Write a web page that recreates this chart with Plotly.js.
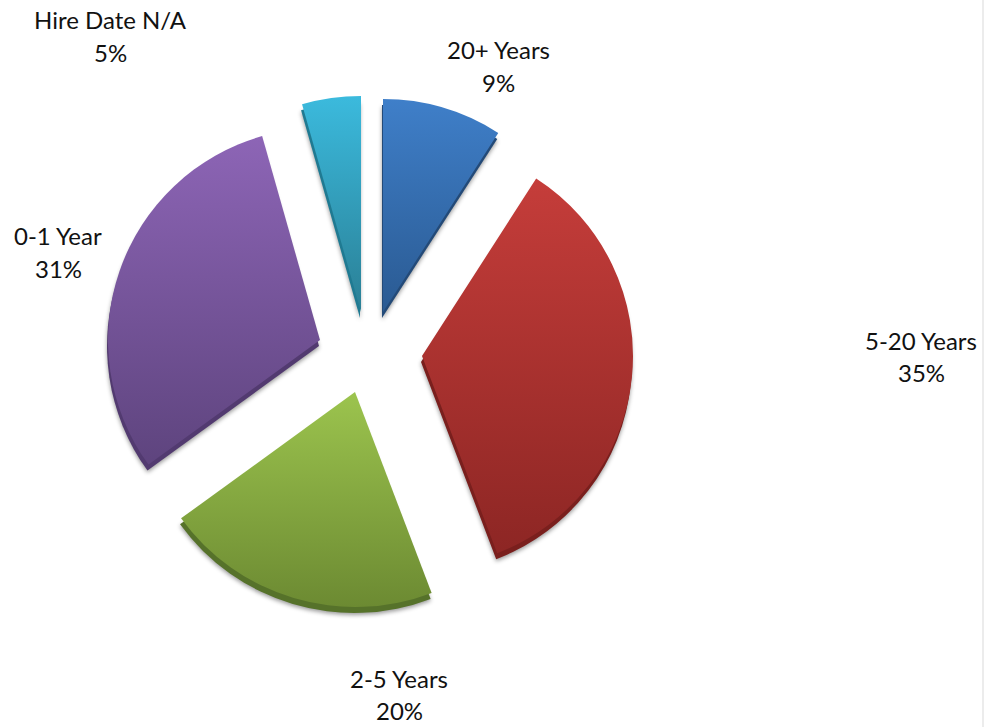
<!DOCTYPE html>
<html><head><meta charset="utf-8">
<script src="https://cdn.plot.ly/plotly-3.0.1.min.js"></script>
<style>html,body{margin:0;padding:0;background:#fff}</style></head>
<body><div id="chart" style="width:985px;height:727px"></div>
<script>
const categories = ["20+ Years","5-20 Years","2-5 Years","0-1 Year","Hire Date N/A"];
const shares = [9.1,35.1,20.8,30.6,4.4];
const shownPercent = [9,35,20,31,5];
const topColors = ["#3f7fc9","#c53d3a","#9cc44e","#8d65b6","#3bbadd"];
const bottomColors = ["#2a5a92","#8d2624","#6c8a32","#5e447e","#2a7f95"];
const edgeColors = ["#234a78","#7a1f1d","#56722a","#523a70","#1f7a92"];
const apexX = [383,422,355,320,361];
const apexY = [312,356,392,340,312];
const radii = [213,211,215,212,216];
const labelX = [498,921,399,58,110];
const labelNameY = [49,340,678,235,20];
const labelPctY = [82,373,710,268,52];
const W=985,H=727, edgeDx=-1, edgeDy=6;

function sliceTrace(k,colors,dx,dy){
  const cx=apexX[k]+dx, cy=apexY[k]+dy, r=radii[k];
  return {type:"pie",values:shares,labels:categories,sort:false,direction:"clockwise",rotation:0,
    textinfo:"none",hoverinfo:"skip",showlegend:false,
    marker:{colors:categories.map((c,i)=>i===k?colors[k]:"rgba(0,0,0,0)"),line:{width:0}},
    domain:{x:[(cx-r)/W,(cx+r)/W],y:[1-(cy+r)/H,1-(cy-r)/H]}};
}
const traces = [];
categories.forEach((c,k)=>traces.push(sliceTrace(k,edgeColors,edgeDx,edgeDy)));
categories.forEach((c,k)=>traces.push(sliceTrace(k,topColors,0,0)));

const font = {family:"Lato, Carlito, sans-serif",size:24,color:"#111"};
const annotations = [];
categories.forEach((c,i)=>{
  annotations.push({text:c,xref:"paper",yref:"paper",x:labelX[i]/W,y:1-labelNameY[i]/H,xanchor:"center",yanchor:"middle",showarrow:false,font:font});
  annotations.push({text:shownPercent[i]+"%",xref:"paper",yref:"paper",x:labelX[i]/W,y:1-labelPctY[i]/H,xanchor:"center",yanchor:"middle",showarrow:false,font:font});
});

Plotly.newPlot("chart",traces,{
  width:W,height:H,margin:{l:0,r:0,t:0,b:0},paper_bgcolor:"#fff",
  annotations:annotations,
  shapes:[{type:"line",xref:"paper",yref:"paper",x0:983/W,x1:983/W,y0:0,y1:1,line:{color:"#d9d9d9",width:1}}]
},{displayModeBar:false}).then(gd=>{
  const svg = gd.querySelector(".main-svg");
  const NS = "http://www.w3.org/2000/svg";
  const defs = svg.querySelector("defs") || svg.insertBefore(document.createElementNS(NS,"defs"),svg.firstChild);
  categories.forEach((c,k)=>{
    const g = document.createElementNS(NS,"linearGradient");
    g.setAttribute("id","face"+k); g.setAttribute("x1","0"); g.setAttribute("y1","0"); g.setAttribute("x2","0"); g.setAttribute("y2","1");
    [[0,topColors[k]],[1,bottomColors[k]]].forEach(s=>{
      const st = document.createElementNS(NS,"stop");
      st.setAttribute("offset",s[0]); st.setAttribute("stop-color",s[1]); g.appendChild(st);
    });
    defs.appendChild(g);
  });
  gd.querySelectorAll(".pielayer .trace").forEach((t,idx)=>{
    const k = idx%categories.length;
    const p = t.querySelectorAll(".slice path.surface")[k];
    if(!p) return;
    if(idx>=categories.length) p.style.fill = "url(#face"+k+")";
    else p.style.filter = "drop-shadow(0 2px 2px rgba(0,0,0,0.4))";
  });
});
</script></body></html>
